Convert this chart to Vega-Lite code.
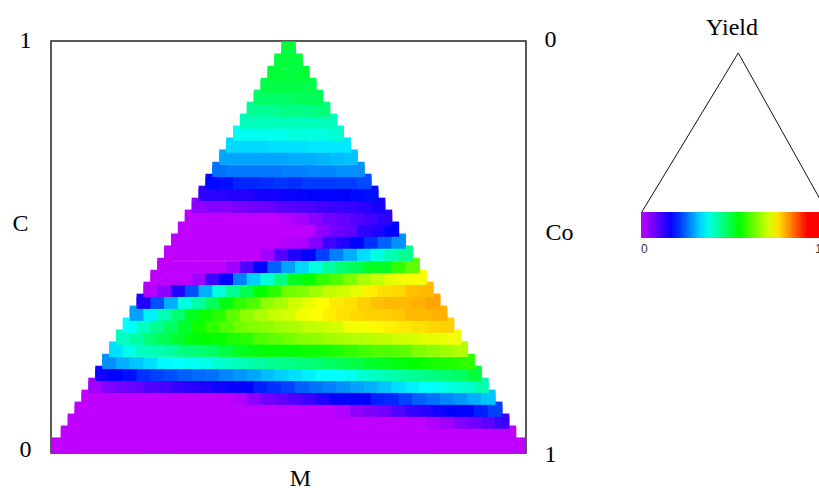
{"$schema":"https://vega.github.io/schema/vega-lite/v6.json","width":475,"height":412,"autosize":{"type":"none"},"padding":{"left":51,"top":41,"right":293,"bottom":35},"background":"white","config":{"view":{"stroke":"#222","strokeWidth":1.5}},
"datasets":{"cells":[
{"m":34,"c":0.976,"y":0.46,"e":1},
{"m":33,"c":0.947,"y":0.46,"e":1},{"m":35,"c":0.947,"y":0.46,"e":1},
{"m":32,"c":0.917,"y":0.465,"e":1},{"m":34,"c":0.917,"y":0.46},{"m":36,"c":0.917,"y":0.465,"e":1},
{"m":31,"c":0.888,"y":0.45,"e":1},{"m":33,"c":0.888,"y":0.455},{"m":35,"c":0.888,"y":0.455},{"m":37,"c":0.888,"y":0.45,"e":1},
{"m":30,"c":0.859,"y":0.43,"e":1},{"m":32,"c":0.859,"y":0.43},{"m":34,"c":0.859,"y":0.43},{"m":36,"c":0.859,"y":0.44},{"m":38,"c":0.859,"y":0.44,"e":1},
{"m":29,"c":0.83,"y":0.4,"e":1},{"m":31,"c":0.83,"y":0.4},{"m":33,"c":0.83,"y":0.41},{"m":35,"c":0.83,"y":0.41},{"m":37,"c":0.83,"y":0.41},{"m":39,"c":0.83,"y":0.42,"e":1},
{"m":28,"c":0.801,"y":0.375,"e":1},{"m":30,"c":0.801,"y":0.375},{"m":32,"c":0.801,"y":0.375},{"m":34,"c":0.801,"y":0.375},{"m":36,"c":0.801,"y":0.375},{"m":38,"c":0.801,"y":0.375},{"m":40,"c":0.801,"y":0.375,"e":1},
{"m":27,"c":0.772,"y":0.34,"e":1},{"m":29,"c":0.772,"y":0.34},{"m":31,"c":0.772,"y":0.34},{"m":33,"c":0.772,"y":0.34},{"m":35,"c":0.772,"y":0.35},{"m":37,"c":0.772,"y":0.35},{"m":39,"c":0.772,"y":0.35},{"m":41,"c":0.772,"y":0.36,"e":1},
{"m":26,"c":0.743,"y":0.305,"e":1},{"m":28,"c":0.743,"y":0.305},{"m":30,"c":0.743,"y":0.305},{"m":32,"c":0.743,"y":0.31},{"m":34,"c":0.743,"y":0.31},{"m":36,"c":0.743,"y":0.31},{"m":38,"c":0.743,"y":0.315},{"m":40,"c":0.743,"y":0.315},{"m":42,"c":0.743,"y":0.315,"e":1},
{"m":25,"c":0.714,"y":0.27,"e":1},{"m":27,"c":0.714,"y":0.27},{"m":29,"c":0.714,"y":0.27},{"m":31,"c":0.714,"y":0.27},{"m":33,"c":0.714,"y":0.27},{"m":35,"c":0.714,"y":0.275},{"m":37,"c":0.714,"y":0.275},{"m":39,"c":0.714,"y":0.28},{"m":41,"c":0.714,"y":0.285},{"m":43,"c":0.714,"y":0.29,"e":1},
{"m":24,"c":0.684,"y":0.235,"e":1},{"m":26,"c":0.684,"y":0.24},{"m":28,"c":0.684,"y":0.24},{"m":30,"c":0.684,"y":0.24},{"m":32,"c":0.684,"y":0.24},{"m":34,"c":0.684,"y":0.245},{"m":36,"c":0.684,"y":0.245},{"m":38,"c":0.684,"y":0.25},{"m":40,"c":0.684,"y":0.25},{"m":42,"c":0.684,"y":0.255},{"m":44,"c":0.684,"y":0.255,"e":1},
{"m":23,"c":0.655,"y":0.165,"e":1},{"m":25,"c":0.655,"y":0.17},{"m":27,"c":0.655,"y":0.185},{"m":29,"c":0.655,"y":0.185},{"m":31,"c":0.655,"y":0.19},{"m":33,"c":0.655,"y":0.195},{"m":35,"c":0.655,"y":0.19},{"m":37,"c":0.655,"y":0.2},{"m":39,"c":0.655,"y":0.2},{"m":41,"c":0.655,"y":0.2},{"m":43,"c":0.655,"y":0.2},{"m":45,"c":0.655,"y":0.21,"e":1},
{"m":22,"c":0.626,"y":0.12,"e":1},{"m":24,"c":0.626,"y":0.125},{"m":26,"c":0.626,"y":0.13},{"m":28,"c":0.626,"y":0.13},{"m":30,"c":0.626,"y":0.14},{"m":32,"c":0.626,"y":0.145},{"m":34,"c":0.626,"y":0.15},{"m":36,"c":0.626,"y":0.155},{"m":38,"c":0.626,"y":0.16},{"m":40,"c":0.626,"y":0.16},{"m":42,"c":0.626,"y":0.16},{"m":44,"c":0.626,"y":0.165},{"m":46,"c":0.626,"y":0.17,"e":1},
{"m":21,"c":0.597,"y":0.04,"e":1},{"m":23,"c":0.597,"y":0.05},{"m":25,"c":0.597,"y":0.05},{"m":27,"c":0.597,"y":0.06},{"m":29,"c":0.597,"y":0.065},{"m":31,"c":0.597,"y":0.07},{"m":33,"c":0.597,"y":0.085},{"m":35,"c":0.597,"y":0.09},{"m":37,"c":0.597,"y":0.095},{"m":39,"c":0.597,"y":0.105},{"m":41,"c":0.597,"y":0.11},{"m":43,"c":0.597,"y":0.115},{"m":45,"c":0.597,"y":0.125},{"m":47,"c":0.597,"y":0.14,"e":1},
{"m":20,"c":0.568,"y":0,"e":1},{"m":22,"c":0.568,"y":0},{"m":24,"c":0.568,"y":0},{"m":26,"c":0.568,"y":0},{"m":28,"c":0.568,"y":0},{"m":30,"c":0.568,"y":0},{"m":32,"c":0.568,"y":0},{"m":34,"c":0.568,"y":0.01},{"m":36,"c":0.568,"y":0.025},{"m":38,"c":0.568,"y":0.045},{"m":40,"c":0.568,"y":0.065},{"m":42,"c":0.568,"y":0.075},{"m":44,"c":0.568,"y":0.09},{"m":46,"c":0.568,"y":0.105},{"m":48,"c":0.568,"y":0.12,"e":1},
{"m":19,"c":0.539,"y":0,"e":1},{"m":21,"c":0.539,"y":0},{"m":23,"c":0.539,"y":0},{"m":25,"c":0.539,"y":0},{"m":27,"c":0.539,"y":0},{"m":29,"c":0.539,"y":0},{"m":31,"c":0.539,"y":0},{"m":33,"c":0.539,"y":0},{"m":35,"c":0.539,"y":0},{"m":37,"c":0.539,"y":0.005},{"m":39,"c":0.539,"y":0.04},{"m":41,"c":0.539,"y":0.065},{"m":43,"c":0.539,"y":0.08},{"m":45,"c":0.539,"y":0.12},{"m":47,"c":0.539,"y":0.133},{"m":49,"c":0.539,"y":0.16,"e":1},
{"m":18,"c":0.51,"y":0,"e":1},{"m":20,"c":0.51,"y":0},{"m":22,"c":0.51,"y":0},{"m":24,"c":0.51,"y":0},{"m":26,"c":0.51,"y":0},{"m":28,"c":0.51,"y":0},{"m":30,"c":0.51,"y":0},{"m":32,"c":0.51,"y":0},{"m":34,"c":0.51,"y":0.01},{"m":36,"c":0.51,"y":0.015},{"m":38,"c":0.51,"y":0.053},{"m":40,"c":0.51,"y":0.107},{"m":42,"c":0.51,"y":0.133},{"m":44,"c":0.51,"y":0.16},{"m":46,"c":0.51,"y":0.192},{"m":48,"c":0.51,"y":0.224},{"m":50,"c":0.51,"y":0.256,"e":1},
{"m":17,"c":0.481,"y":0,"e":1},{"m":19,"c":0.481,"y":0},{"m":21,"c":0.481,"y":0},{"m":23,"c":0.481,"y":0},{"m":25,"c":0.481,"y":0},{"m":27,"c":0.481,"y":0},{"m":29,"c":0.481,"y":0},{"m":31,"c":0.481,"y":0.027},{"m":33,"c":0.481,"y":0.093},{"m":35,"c":0.481,"y":0.133},{"m":37,"c":0.481,"y":0.16},{"m":39,"c":0.481,"y":0.203},{"m":41,"c":0.481,"y":0.245},{"m":43,"c":0.481,"y":0.277},{"m":45,"c":0.481,"y":0.309},{"m":47,"c":0.481,"y":0.351},{"m":49,"c":0.481,"y":0.383},{"m":51,"c":0.481,"y":0.404,"e":1},
{"m":16,"c":0.451,"y":0,"e":1},{"m":18,"c":0.451,"y":0},{"m":20,"c":0.451,"y":0},{"m":22,"c":0.451,"y":0},{"m":24,"c":0.451,"y":0},{"m":26,"c":0.451,"y":0.027},{"m":28,"c":0.451,"y":0.093},{"m":30,"c":0.451,"y":0.16},{"m":32,"c":0.451,"y":0.224},{"m":34,"c":0.451,"y":0.267},{"m":36,"c":0.451,"y":0.304},{"m":38,"c":0.451,"y":0.351},{"m":40,"c":0.451,"y":0.393},{"m":42,"c":0.451,"y":0.425},{"m":44,"c":0.451,"y":0.447},{"m":46,"c":0.451,"y":0.479},{"m":48,"c":0.451,"y":0.479},{"m":50,"c":0.451,"y":0.534},{"m":52,"c":0.451,"y":0.568,"e":1},
{"m":15,"c":0.422,"y":0,"e":1},{"m":17,"c":0.422,"y":0},{"m":19,"c":0.422,"y":0},{"m":21,"c":0.422,"y":0.027},{"m":23,"c":0.422,"y":0.107},{"m":25,"c":0.422,"y":0.155},{"m":27,"c":0.422,"y":0.245},{"m":29,"c":0.422,"y":0.299},{"m":31,"c":0.422,"y":0.361},{"m":33,"c":0.422,"y":0.415},{"m":35,"c":0.422,"y":0.479},{"m":37,"c":0.422,"y":0.5},{"m":39,"c":0.422,"y":0.534},{"m":41,"c":0.422,"y":0.556},{"m":43,"c":0.422,"y":0.59},{"m":45,"c":0.422,"y":0.62},{"m":47,"c":0.422,"y":0.64},{"m":49,"c":0.422,"y":0.66},{"m":51,"c":0.422,"y":0.67},{"m":53,"c":0.422,"y":0.675,"e":1},
{"m":14,"c":0.393,"y":0.01,"e":1},{"m":16,"c":0.393,"y":0.04},{"m":18,"c":0.393,"y":0.133},{"m":20,"c":0.393,"y":0.213},{"m":22,"c":0.393,"y":0.277},{"m":24,"c":0.393,"y":0.351},{"m":26,"c":0.393,"y":0.404},{"m":28,"c":0.393,"y":0.447},{"m":30,"c":0.393,"y":0.5},{"m":32,"c":0.393,"y":0.528},{"m":34,"c":0.393,"y":0.58},{"m":36,"c":0.393,"y":0.59},{"m":38,"c":0.393,"y":0.613},{"m":40,"c":0.393,"y":0.635},{"m":42,"c":0.393,"y":0.647},{"m":44,"c":0.393,"y":0.664},{"m":46,"c":0.393,"y":0.69},{"m":48,"c":0.393,"y":0.7},{"m":50,"c":0.393,"y":0.706},{"m":52,"c":0.393,"y":0.722},{"m":54,"c":0.393,"y":0.727,"e":1},
{"m":13,"c":0.364,"y":0.133,"e":1},{"m":15,"c":0.364,"y":0.213},{"m":17,"c":0.364,"y":0.277},{"m":19,"c":0.364,"y":0.351},{"m":21,"c":0.364,"y":0.393},{"m":23,"c":0.364,"y":0.44},{"m":25,"c":0.364,"y":0.49},{"m":27,"c":0.364,"y":0.534},{"m":29,"c":0.364,"y":0.556},{"m":31,"c":0.364,"y":0.6},{"m":33,"c":0.364,"y":0.62},{"m":35,"c":0.364,"y":0.647},{"m":37,"c":0.364,"y":0.664},{"m":39,"c":0.364,"y":0.68},{"m":41,"c":0.364,"y":0.695},{"m":43,"c":0.364,"y":0.7},{"m":45,"c":0.364,"y":0.711},{"m":47,"c":0.364,"y":0.722},{"m":49,"c":0.364,"y":0.727},{"m":51,"c":0.364,"y":0.727},{"m":53,"c":0.364,"y":0.733},{"m":55,"c":0.364,"y":0.74,"e":1},
{"m":12,"c":0.335,"y":0.267,"e":1},{"m":14,"c":0.335,"y":0.32},{"m":16,"c":0.335,"y":0.383},{"m":18,"c":0.335,"y":0.425},{"m":20,"c":0.335,"y":0.479},{"m":22,"c":0.335,"y":0.51},{"m":24,"c":0.335,"y":0.528},{"m":26,"c":0.335,"y":0.568},{"m":28,"c":0.335,"y":0.6},{"m":30,"c":0.335,"y":0.62},{"m":32,"c":0.335,"y":0.64},{"m":34,"c":0.335,"y":0.65},{"m":36,"c":0.335,"y":0.67},{"m":38,"c":0.335,"y":0.68},{"m":40,"c":0.335,"y":0.69},{"m":42,"c":0.335,"y":0.7},{"m":44,"c":0.335,"y":0.706},{"m":46,"c":0.335,"y":0.711},{"m":48,"c":0.335,"y":0.711},{"m":50,"c":0.335,"y":0.716},{"m":52,"c":0.335,"y":0.727},{"m":54,"c":0.335,"y":0.727},{"m":56,"c":0.335,"y":0.733,"e":1},
{"m":11,"c":0.306,"y":0.33,"e":1},{"m":13,"c":0.306,"y":0.372},{"m":15,"c":0.306,"y":0.404},{"m":17,"c":0.306,"y":0.436},{"m":19,"c":0.306,"y":0.47},{"m":21,"c":0.306,"y":0.51},{"m":23,"c":0.306,"y":0.534},{"m":25,"c":0.306,"y":0.556},{"m":27,"c":0.306,"y":0.58},{"m":29,"c":0.306,"y":0.59},{"m":31,"c":0.306,"y":0.6},{"m":33,"c":0.306,"y":0.613},{"m":35,"c":0.306,"y":0.62},{"m":37,"c":0.306,"y":0.635},{"m":39,"c":0.306,"y":0.64},{"m":41,"c":0.306,"y":0.65},{"m":43,"c":0.306,"y":0.67},{"m":45,"c":0.306,"y":0.675},{"m":47,"c":0.306,"y":0.685},{"m":49,"c":0.306,"y":0.69},{"m":51,"c":0.306,"y":0.695},{"m":53,"c":0.306,"y":0.7},{"m":55,"c":0.306,"y":0.706},{"m":57,"c":0.306,"y":0.711,"e":1},
{"m":10,"c":0.277,"y":0.372,"e":1},{"m":12,"c":0.277,"y":0.393},{"m":14,"c":0.277,"y":0.425},{"m":16,"c":0.277,"y":0.447},{"m":18,"c":0.277,"y":0.47},{"m":20,"c":0.277,"y":0.495},{"m":22,"c":0.277,"y":0.5},{"m":24,"c":0.277,"y":0.505},{"m":26,"c":0.277,"y":0.52},{"m":28,"c":0.277,"y":0.528},{"m":30,"c":0.277,"y":0.556},{"m":32,"c":0.277,"y":0.568},{"m":34,"c":0.277,"y":0.58},{"m":36,"c":0.277,"y":0.595},{"m":38,"c":0.277,"y":0.6},{"m":40,"c":0.277,"y":0.613},{"m":42,"c":0.277,"y":0.62},{"m":44,"c":0.277,"y":0.625},{"m":46,"c":0.277,"y":0.63},{"m":48,"c":0.277,"y":0.635},{"m":50,"c":0.277,"y":0.647},{"m":52,"c":0.277,"y":0.65},{"m":54,"c":0.277,"y":0.66},{"m":56,"c":0.277,"y":0.664},{"m":58,"c":0.277,"y":0.67,"e":1},
{"m":9,"c":0.248,"y":0.31,"e":1},{"m":11,"c":0.248,"y":0.345},{"m":13,"c":0.248,"y":0.372},{"m":15,"c":0.248,"y":0.383},{"m":17,"c":0.248,"y":0.393},{"m":19,"c":0.248,"y":0.415},{"m":21,"c":0.248,"y":0.425},{"m":23,"c":0.248,"y":0.436},{"m":25,"c":0.248,"y":0.457},{"m":27,"c":0.248,"y":0.479},{"m":29,"c":0.248,"y":0.49},{"m":31,"c":0.248,"y":0.5},{"m":33,"c":0.248,"y":0.5},{"m":35,"c":0.248,"y":0.5},{"m":37,"c":0.248,"y":0.51},{"m":39,"c":0.248,"y":0.51},{"m":41,"c":0.248,"y":0.52},{"m":43,"c":0.248,"y":0.534},{"m":45,"c":0.248,"y":0.545},{"m":47,"c":0.248,"y":0.556},{"m":49,"c":0.248,"y":0.556},{"m":51,"c":0.248,"y":0.568},{"m":53,"c":0.248,"y":0.59},{"m":55,"c":0.248,"y":0.6},{"m":57,"c":0.248,"y":0.613},{"m":59,"c":0.248,"y":0.625,"e":1},
{"m":8,"c":0.218,"y":0.256,"e":1},{"m":10,"c":0.218,"y":0.277},{"m":12,"c":0.218,"y":0.292},{"m":14,"c":0.218,"y":0.309},{"m":16,"c":0.218,"y":0.325},{"m":18,"c":0.218,"y":0.33},{"m":20,"c":0.218,"y":0.34},{"m":22,"c":0.218,"y":0.345},{"m":24,"c":0.218,"y":0.361},{"m":26,"c":0.218,"y":0.372},{"m":28,"c":0.218,"y":0.383},{"m":30,"c":0.218,"y":0.393},{"m":32,"c":0.218,"y":0.404},{"m":34,"c":0.218,"y":0.41},{"m":36,"c":0.218,"y":0.42},{"m":38,"c":0.218,"y":0.425},{"m":40,"c":0.218,"y":0.436},{"m":42,"c":0.218,"y":0.445},{"m":44,"c":0.218,"y":0.457},{"m":46,"c":0.218,"y":0.47},{"m":48,"c":0.218,"y":0.48},{"m":50,"c":0.218,"y":0.49},{"m":52,"c":0.218,"y":0.5},{"m":54,"c":0.218,"y":0.51},{"m":56,"c":0.218,"y":0.52},{"m":58,"c":0.218,"y":0.52},{"m":60,"c":0.218,"y":0.534,"e":1},
{"m":7,"c":0.189,"y":0.147,"e":1},{"m":9,"c":0.189,"y":0.16},{"m":11,"c":0.189,"y":0.17},{"m":13,"c":0.189,"y":0.192},{"m":15,"c":0.189,"y":0.203},{"m":17,"c":0.189,"y":0.213},{"m":19,"c":0.189,"y":0.224},{"m":21,"c":0.189,"y":0.23},{"m":23,"c":0.189,"y":0.235},{"m":25,"c":0.189,"y":0.25},{"m":27,"c":0.189,"y":0.26},{"m":29,"c":0.189,"y":0.27},{"m":31,"c":0.189,"y":0.287},{"m":33,"c":0.189,"y":0.299},{"m":35,"c":0.189,"y":0.309},{"m":37,"c":0.189,"y":0.32},{"m":39,"c":0.189,"y":0.33},{"m":41,"c":0.189,"y":0.33},{"m":43,"c":0.189,"y":0.34},{"m":45,"c":0.189,"y":0.361},{"m":47,"c":0.189,"y":0.372},{"m":49,"c":0.189,"y":0.383},{"m":51,"c":0.189,"y":0.393},{"m":53,"c":0.189,"y":0.404},{"m":55,"c":0.189,"y":0.415},{"m":57,"c":0.189,"y":0.425},{"m":59,"c":0.189,"y":0.436},{"m":61,"c":0.189,"y":0.46,"e":1},
{"m":6,"c":0.16,"y":0.027,"e":1},{"m":8,"c":0.16,"y":0.053},{"m":10,"c":0.16,"y":0.067},{"m":12,"c":0.16,"y":0.075},{"m":14,"c":0.16,"y":0.093},{"m":16,"c":0.16,"y":0.1},{"m":18,"c":0.16,"y":0.115},{"m":20,"c":0.16,"y":0.127},{"m":22,"c":0.16,"y":0.133},{"m":24,"c":0.16,"y":0.147},{"m":26,"c":0.16,"y":0.155},{"m":28,"c":0.16,"y":0.16},{"m":30,"c":0.16,"y":0.181},{"m":32,"c":0.16,"y":0.192},{"m":34,"c":0.16,"y":0.203},{"m":36,"c":0.16,"y":0.224},{"m":38,"c":0.16,"y":0.235},{"m":40,"c":0.16,"y":0.245},{"m":42,"c":0.16,"y":0.256},{"m":44,"c":0.16,"y":0.267},{"m":46,"c":0.16,"y":0.277},{"m":48,"c":0.16,"y":0.292},{"m":50,"c":0.16,"y":0.309},{"m":52,"c":0.16,"y":0.32},{"m":54,"c":0.16,"y":0.33},{"m":56,"c":0.16,"y":0.34},{"m":58,"c":0.16,"y":0.351},{"m":60,"c":0.16,"y":0.361},{"m":62,"c":0.16,"y":0.383,"e":1},
{"m":5,"c":0.131,"y":0,"e":1},{"m":7,"c":0.131,"y":0},{"m":9,"c":0.131,"y":0},{"m":11,"c":0.131,"y":0},{"m":13,"c":0.131,"y":0},{"m":15,"c":0.131,"y":0},{"m":17,"c":0.131,"y":0},{"m":19,"c":0.131,"y":0},{"m":21,"c":0.131,"y":0},{"m":23,"c":0.131,"y":0},{"m":25,"c":0.131,"y":0},{"m":27,"c":0.131,"y":0.013},{"m":29,"c":0.131,"y":0.04},{"m":31,"c":0.131,"y":0.067},{"m":33,"c":0.131,"y":0.08},{"m":35,"c":0.131,"y":0.093},{"m":37,"c":0.131,"y":0.11},{"m":39,"c":0.131,"y":0.133},{"m":41,"c":0.131,"y":0.155},{"m":43,"c":0.131,"y":0.16},{"m":45,"c":0.131,"y":0.16},{"m":47,"c":0.131,"y":0.181},{"m":49,"c":0.131,"y":0.186},{"m":51,"c":0.131,"y":0.203},{"m":53,"c":0.131,"y":0.224},{"m":55,"c":0.131,"y":0.235},{"m":57,"c":0.131,"y":0.25},{"m":59,"c":0.131,"y":0.26},{"m":61,"c":0.131,"y":0.277},{"m":63,"c":0.131,"y":0.292,"e":1},
{"m":4,"c":0.102,"y":0,"e":1},{"m":6,"c":0.102,"y":0},{"m":8,"c":0.102,"y":0},{"m":10,"c":0.102,"y":0},{"m":12,"c":0.102,"y":0},{"m":14,"c":0.102,"y":0},{"m":16,"c":0.102,"y":0},{"m":18,"c":0.102,"y":0},{"m":20,"c":0.102,"y":0},{"m":22,"c":0.102,"y":0},{"m":24,"c":0.102,"y":0},{"m":26,"c":0.102,"y":0},{"m":28,"c":0.102,"y":0},{"m":30,"c":0.102,"y":0},{"m":32,"c":0.102,"y":0},{"m":34,"c":0.102,"y":0},{"m":36,"c":0.102,"y":0},{"m":38,"c":0.102,"y":0},{"m":40,"c":0.102,"y":0},{"m":42,"c":0.102,"y":0.013},{"m":44,"c":0.102,"y":0.04},{"m":46,"c":0.102,"y":0.053},{"m":48,"c":0.102,"y":0.067},{"m":50,"c":0.102,"y":0.093},{"m":52,"c":0.102,"y":0.115},{"m":54,"c":0.102,"y":0.127},{"m":56,"c":0.102,"y":0.147},{"m":58,"c":0.102,"y":0.16},{"m":60,"c":0.102,"y":0.16},{"m":62,"c":0.102,"y":0.181},{"m":64,"c":0.102,"y":0.203,"e":1},
{"m":3,"c":0.073,"y":0,"e":1},{"m":5,"c":0.073,"y":0},{"m":7,"c":0.073,"y":0},{"m":9,"c":0.073,"y":0},{"m":11,"c":0.073,"y":0},{"m":13,"c":0.073,"y":0},{"m":15,"c":0.073,"y":0},{"m":17,"c":0.073,"y":0},{"m":19,"c":0.073,"y":0},{"m":21,"c":0.073,"y":0},{"m":23,"c":0.073,"y":0},{"m":25,"c":0.073,"y":0},{"m":27,"c":0.073,"y":0},{"m":29,"c":0.073,"y":0},{"m":31,"c":0.073,"y":0},{"m":33,"c":0.073,"y":0},{"m":35,"c":0.073,"y":0},{"m":37,"c":0.073,"y":0},{"m":39,"c":0.073,"y":0},{"m":41,"c":0.073,"y":0},{"m":43,"c":0.073,"y":0},{"m":45,"c":0.073,"y":0},{"m":47,"c":0.073,"y":0},{"m":49,"c":0.073,"y":0},{"m":51,"c":0.073,"y":0},{"m":53,"c":0.073,"y":0},{"m":55,"c":0.073,"y":0.013},{"m":57,"c":0.073,"y":0.027},{"m":59,"c":0.073,"y":0.05},{"m":61,"c":0.073,"y":0.067},{"m":63,"c":0.073,"y":0.085},{"m":65,"c":0.073,"y":0.11,"e":1},
{"m":2,"c":0.044,"y":0,"e":1},{"m":4,"c":0.044,"y":0},{"m":6,"c":0.044,"y":0},{"m":8,"c":0.044,"y":0},{"m":10,"c":0.044,"y":0},{"m":12,"c":0.044,"y":0},{"m":14,"c":0.044,"y":0},{"m":16,"c":0.044,"y":0},{"m":18,"c":0.044,"y":0},{"m":20,"c":0.044,"y":0},{"m":22,"c":0.044,"y":0},{"m":24,"c":0.044,"y":0},{"m":26,"c":0.044,"y":0},{"m":28,"c":0.044,"y":0},{"m":30,"c":0.044,"y":0},{"m":32,"c":0.044,"y":0},{"m":34,"c":0.044,"y":0},{"m":36,"c":0.044,"y":0},{"m":38,"c":0.044,"y":0},{"m":40,"c":0.044,"y":0},{"m":42,"c":0.044,"y":0},{"m":44,"c":0.044,"y":0},{"m":46,"c":0.044,"y":0},{"m":48,"c":0.044,"y":0},{"m":50,"c":0.044,"y":0},{"m":52,"c":0.044,"y":0},{"m":54,"c":0.044,"y":0},{"m":56,"c":0.044,"y":0},{"m":58,"c":0.044,"y":0},{"m":60,"c":0.044,"y":0},{"m":62,"c":0.044,"y":0},{"m":64,"c":0.044,"y":0},{"m":66,"c":0.044,"y":0,"e":1},
{"m":0,"c":0.015,"y":0,"e":1},{"m":2,"c":0.015,"y":0},{"m":4,"c":0.015,"y":0},{"m":6,"c":0.015,"y":0},{"m":8,"c":0.015,"y":0},{"m":10,"c":0.015,"y":0},{"m":12,"c":0.015,"y":0},{"m":14,"c":0.015,"y":0},{"m":16,"c":0.015,"y":0},{"m":18,"c":0.015,"y":0},{"m":20,"c":0.015,"y":0},{"m":22,"c":0.015,"y":0},{"m":24,"c":0.015,"y":0},{"m":26,"c":0.015,"y":0},{"m":28,"c":0.015,"y":0},{"m":30,"c":0.015,"y":0},{"m":32,"c":0.015,"y":0},{"m":34,"c":0.015,"y":0},{"m":36,"c":0.015,"y":0},{"m":38,"c":0.015,"y":0},{"m":40,"c":0.015,"y":0},{"m":42,"c":0.015,"y":0},{"m":44,"c":0.015,"y":0},{"m":46,"c":0.015,"y":0},{"m":48,"c":0.015,"y":0},{"m":50,"c":0.015,"y":0},{"m":52,"c":0.015,"y":0},{"m":54,"c":0.015,"y":0},{"m":56,"c":0.015,"y":0},{"m":58,"c":0.015,"y":0},{"m":60,"c":0.015,"y":0},{"m":62,"c":0.015,"y":0},{"m":64,"c":0.015,"y":0},{"m":66,"c":0.015,"y":0},{"m":68,"c":0.015,"y":0,"e":1}
]},
"layer":[
{"data":{"name":"cells"},"transform":[{"filter":{"field":"e","equal":1}}],"mark":{"type":"rect","width":14.6,"height":12.2,"yOffset":-3.3,"clip":true},
"encoding":{"x":{"field":"m","type":"quantitative","scale":{"domain":[-0.48,68.48],"nice":false,"zero":false},"axis":{"title":"M","labels":false,"ticks":false,"domain":false,"grid":false,"titleFont":"Liberation Serif","titleFontSize":24,"titleFontWeight":"normal","titleColor":"#000","titleX":249,"titleY":25,"titleBaseline":"middle"}},
"y":{"field":"c","type":"quantitative","scale":{"domain":[0,1],"nice":false},"axis":{"orient":"left","values":[0,1],"format":"d","title":"C","titleAngle":0,"titleFont":"Liberation Serif","titleFontSize":24,"titleFontWeight":"normal","titleColor":"#000","titleAlign":"center","titleBaseline":"middle","titleX":-31,"titleY":182,"labelFont":"Liberation Serif","labelFontSize":24,"labelColor":"#000","labelPadding":20,"labelOffset":{"expr":"datum.value==0?-4:-1"},"ticks":false,"domain":false,"grid":false}},
"color":{"field":"y","type":"quantitative","scale":{"domain":[0,0.16,0.33,0.5,0.68,0.85,0.923],"range":["#c000ff","#0000ff","#00ffff","#00ff00","#ffff00","#ff0000","#ff0000"],"interpolate":"rgb"},
"legend":{"orient":"none","direction":"horizontal","legendX":590,"legendY":-25,"title":"Yield","titleOrient":"top","titleAnchor":"middle","titleFont":"Liberation Serif","titleFontSize":24,"titleFontWeight":"normal","titleColor":"#000","titlePadding":172,"gradientLength":181,"gradientThickness":26,"gradientStrokeWidth":0,"values":[0,0.923],"labelExpr":"datum.value>0.5?'1':'0'","labelFont":"Liberation Sans","labelFontSize":12,"labelColor":"#333","labelOffset":6,"labelOverlap":false}}}},
{"data":{"name":"cells"},"mark":{"type":"rect","width":14.6,"height":12.2,"clip":true},
"encoding":{"x":{"field":"m","type":"quantitative","scale":{"domain":[-0.48,68.48],"nice":false,"zero":false},"axis":null},
"y":{"field":"c","type":"quantitative","scale":{"domain":[0,1],"nice":false},"axis":null},
"color":{"field":"y","type":"quantitative"}}},
{"data":{"values":[{"m":85.3,"c":0.585},{"m":99.3,"c":0.971},{"m":112.2,"c":0.585}]},"mark":{"type":"line","stroke":"#111","strokeWidth":1,"clip":false},
"encoding":{"x":{"field":"m","type":"quantitative","axis":null},"y":{"field":"c","type":"quantitative","scale":{"domain":[0,1],"nice":false},"axis":null}}},
{"data":{"values":[{"co":0},{"co":1}]},"mark":{"type":"point","opacity":0},
"encoding":{"y":{"field":"co","type":"quantitative","scale":{"domain":[1,0],"nice":false},"axis":{"orient":"right","values":[0,1],"format":"d","title":"Co","titleAngle":0,"titleFont":"Liberation Serif","titleFontSize":24,"titleFontWeight":"normal","titleColor":"#000","titleAlign":"center","titleBaseline":"middle","titleX":33,"titleY":191,"labelFont":"Liberation Serif","labelFontSize":24,"labelColor":"#000","labelPadding":18,"labelOffset":{"expr":"datum.value==1?1:-2"},"ticks":false,"domain":false,"grid":false}}}}
],
"resolve":{"scale":{"y":"independent"},"axis":{"x":"independent"}}}
